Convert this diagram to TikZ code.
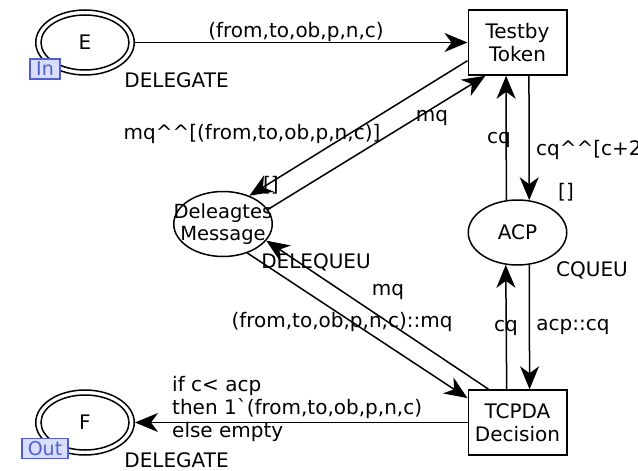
\documentclass[tikz,border=0pt]{standalone}
\usepackage{fontspec}
\setmainfont{DejaVu Sans}[Ligatures=TeXOff]
\usetikzlibrary{arrows.meta,shapes.geometric}
\definecolor{tagline}{RGB}{80,96,210}
\definecolor{tagfill}{RGB}{218,222,250}
\begin{document}
\begin{tikzpicture}[x=1pt,y=-1pt,
  every node/.style={font=\fontsize{20}{23.3}\selectfont, inner sep=0pt},
  place/.style={ellipse, draw, line width=1.5pt, minimum width=98.5pt, minimum height=65pt},
  trans/.style={rectangle, draw, line width=1.5pt, minimum width=98.5pt, minimum height=65pt, align=center},
  arc/.style={line width=1.5pt, -{Stealth[length=23pt,width=19pt,inset=7pt]}},
  tag/.style={draw=tagline, fill=tagfill, text=tagline, line width=1.2pt, inner sep=0pt,
    font=\fontsize{19}{19}\selectfont, minimum height=20pt}]
\fill[white] (0,0) rectangle (638,471);
\useasboundingbox (0,0) rectangle (638,471);

% places
\node[place] (E) at (85,42.5) {E};
\draw[line width=1.5pt] (E.center) ellipse [x radius=44pt, y radius=27.5pt];
\node[place] (F) at (85,422.5) {F};
\draw[line width=1.5pt] (F.center) ellipse [x radius=44pt, y radius=27.5pt];
\node[place] (Msg) at (223,224) {};
\node[align=center, font=\fontsize{19.5}{22}\selectfont] (MsgName) at (Msg.center) {Deleagtes\\Message};
\node[place] (ACP) at (517.5,232.5) {ACP};

% port tags
\node[tag, minimum width=30pt] (Etag) at (45,69) {In};
\node[tag, minimum width=46pt] (Ftag) at (45,448.5) {Out};

% transitions
\node[trans] (Tb) at (517.5,42.5) {Testby\\Token};
\node[trans] (Tc) at (517.5,422.5) {TCPDA\\Decision};

% arcs
\draw[arc] (E) -- (Tb);
\draw[arc] (Tb.200.5) -- (Msg.47);
\draw[arc] (Msg.18.8) -- (Tb.226.3);
\draw[arc] (Tb.289.2) -- (ACP.70);
\draw[arc] (ACP.109.1) -- (Tb.251.6);
\draw[arc] (Tc.108.4) -- (ACP.250.9);
\draw[arc] (ACP.290) -- (Tc.70.8);
\draw[arc] (Msg.-50.4) -- (Tc.154.6);
\draw[arc] (Tc.131.8) -- (Msg.-21.8);
\draw[arc] (Tc) -- (F);

% colour sets
\node (tE) at (176.5,80) {DELEGATE};
\node (tF) at (176.5,460) {DELEGATE};
\node (tMsg) at (316,262) {DELEQUEU};
\node (tAcp) at (592,270) {CQUEU};

% initial markings
\node (iMsg) at (271,185) {[]};
\node (iAcp) at (566,192) {[]};

% arc inscriptions
\node (lEtoTb) at (296,32) {(from,to,ob,p,n,c)};
\node (lTbMsg) at (252,134) {mq\textasciicircum\textasciicircum[(from,to,ob,p,n,c)]};
\node (lMsgTb) at (432,118) {mq};
\node (lAcpTb) at (499,140) {cq};
\node[anchor=west] (lTbAcp) at (536,150) {cq\textasciicircum\textasciicircum[c+2};
\node (lTcMsg) at (388,292) {mq};
\node (lMsgTc) at (342,322) {(from,to,ob,p,n,c)::mq};
\node (lTcAcp) at (506,328) {cq};
\node (lAcpTc) at (573,327) {acp::cq};
\node[anchor=west, align=left] (lTcF) at (172,409) {if c< acp\\then 1`(from,to,ob,p,n,c)\\else empty};
\end{tikzpicture}
\end{document}
